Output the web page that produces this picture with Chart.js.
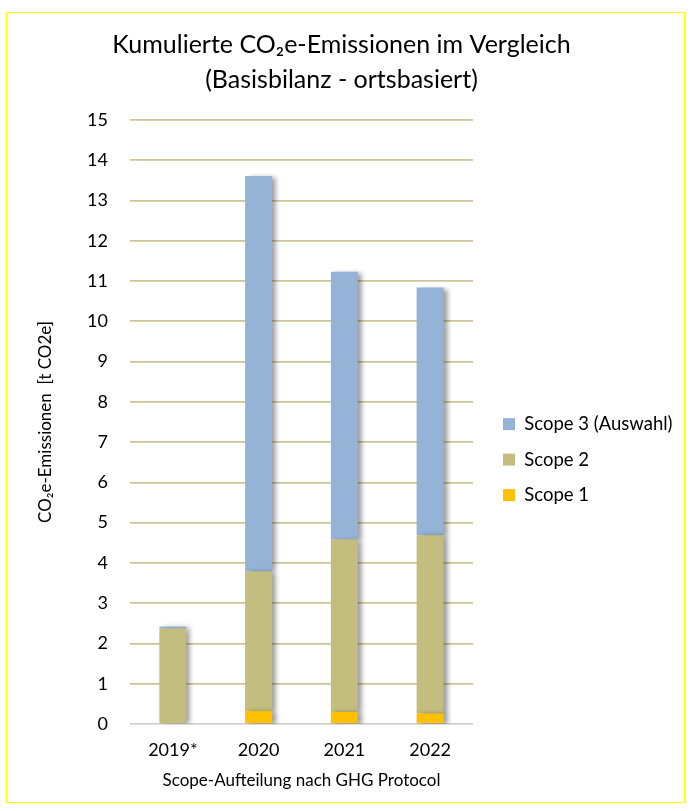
<!DOCTYPE html>
<html>
<head>
<meta charset="utf-8">
<script src="https://cdn.jsdelivr.net/npm/chart.js@4/dist/chart.umd.min.js"></script>
<style>
  html, body { margin: 0; padding: 0; background: #fff; }
  #wrap { position: relative; width: 691px; height: 811px; }
  #frame { position: absolute; left: 6px; top: 12px; width: 677px; height: 789px; border: 1px solid #ffff00; pointer-events: none; }
  canvas { position: absolute; left: 0; top: 0; }
</style>
</head>
<body>
<div id="wrap">
  <canvas id="chart" width="691" height="811"></canvas>
  <div id="frame"></div>
</div>
<script>
const years = ['2019*', '2020', '2021', '2022'];
const scope1 = [0, 0.32, 0.30, 0.26];
const scope2 = [2.37, 3.47, 4.28, 4.43];
const scope3 = [0.05, 9.82, 6.65, 6.15];
const yTicks = [0, 1, 2, 3, 4, 5, 6, 7, 8, 9, 10, 11, 12, 13, 14, 15];

const FONT = 'Lato';

// soft shadow to the right of the bars
const barShadow = {
  id: 'barShadow',
  beforeDatasetsDraw(chart) {
    const ctx = chart.ctx;
    ctx.save();
    ctx.shadowColor = 'rgba(0,0,0,0.4)';
    ctx.shadowBlur = 5;
    ctx.shadowOffsetX = 4;
    ctx.shadowOffsetY = 1;
  },
  afterDatasetsDraw(chart) {
    chart.ctx.restore();
  }
};

// move legend a bit to the right of the plot and give the text room
const legendShift = {
  id: 'legendShift',
  afterLayout(chart) {
    const lg = chart.legend;
    lg.left += 13;
    lg.right = lg.left + 220;
    lg.width = 220;
  }
};

new Chart(document.getElementById('chart'), {
  type: 'bar',
  data: {
    labels: years,
    datasets: [
      { label: 'Scope 1', data: scope1, backgroundColor: '#ffc000' },
      { label: 'Scope 2', data: scope2, backgroundColor: '#c3bd7e' },
      { label: 'Scope 3 (Auswahl)', data: scope3, backgroundColor: '#95b3d7' }
    ]
  },
  options: {
    responsive: false,
    animation: false,
    layout: { padding: { top: 20, left: 20, right: 28, bottom: 10 } },
    datasets: { bar: { barPercentage: 0.315, categoryPercentage: 1 } },
    plugins: {
      title: {
        display: true,
        text: ['Kumulierte CO\u2082e-Emissionen im Vergleich', '(Basisbilanz - ortsbasiert)'],
        color: '#000',
        font: { family: FONT, size: 25, weight: 'normal', lineHeight: 1.4 },
        padding: { top: 7, bottom: 23 }
      },
      legend: {
        position: 'right',
        reverse: true,
        maxWidth: 190,
        title: { display: true, text: ' ', font: { size: 16 }, padding: { top: 0, bottom: 79 } },
        labels: {
          boxWidth: 12, boxHeight: 12, padding: 17,
          color: '#000',
          font: { family: FONT, size: 18.5 }
        }
      },
      tooltip: { enabled: false }
    },
    scales: {
      x: {
        stacked: true,
        grid: { display: false, drawTicks: false },
        border: { display: false },
        afterFit(scale) { scale.height = 77; },
        ticks: { color: '#000', font: { family: FONT, size: 18 }, padding: 15 },
        title: {
          display: true,
          text: 'Scope-Aufteilung nach GHG Protocol',
          color: '#000',
          font: { family: FONT, size: 17 },
          padding: { top: 4, bottom: 10 }
        }
      },
      y: {
        stacked: true,
        min: 0,
        max: 15,
        afterBuildTicks(scale) {
          scale.ticks = yTicks.map(v => ({ value: v }));
        },
        afterFit(scale) { scale.width = 110; },
        grid: {
          drawTicks: false,
          lineWidth: 1.7,
          color: ctx => ctx.index === 0 ? '#d0d0d0' : '#cdc696'
        },
        border: { display: false },
        ticks: { color: '#000', font: { family: FONT, size: 18 }, padding: 22 },
        title: {
          display: true,
          text: 'CO\u2082e-Emissionen  [t CO2e]',
          color: '#000',
          font: { family: FONT, size: 17 },
          padding: { top: 15, bottom: 0 }
        }
      }
    }
  },
  plugins: [barShadow, legendShift]
});
</script>
</body>
</html>
